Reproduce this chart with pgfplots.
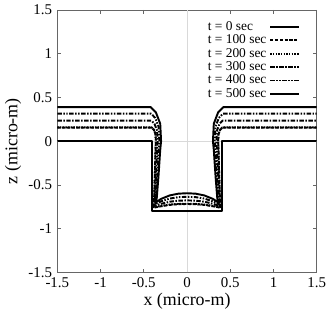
\documentclass[border=0pt]{standalone}
\usepackage{pgfplots}
\pgfplotsset{compat=1.18}
\usepackage{fontspec}
\setmainfont{Liberation Serif}
\begin{document}
\begin{tikzpicture}
\begin{axis}[
  width=174pt, height=176pt, scale only axis,
  xmin=-1.5, xmax=1.5, ymin=-1.5, ymax=1.5,
  xtick={-1.5,-1,-0.5,0,0.5,1,1.5},
  ytick={-1.5,-1,-0.5,0,0.5,1,1.5},
  tick align=inside, major tick length=2.5pt,
  tick style={black!60, line width=0.4pt},
  axis line style={black!60, line width=0.6pt},
  /pgf/number format/assume math mode=true,
  ticklabel style={font=\normalsize},
  xlabel={x (micro-m)}, ylabel={z (micro-m)},
  label style={font=\large},
  xlabel style={yshift=3pt},
  ylabel style={yshift=-2pt},
  extra x ticks={0}, extra y ticks={0},
  extra tick style={grid=major, major grid style={black!15, line width=0.5pt}, tick style={draw=none}},
  extra x tick labels={}, extra y tick labels={},
  legend style={draw=none, fill=none, at={(0.94,0.975)}, anchor=north east, font=\fontsize{9}{10}\selectfont,
    row sep=-2.5pt, inner sep=1pt},
  legend cell align=left,
  legend plot pos=right,
  legend image post style={line width=1.1pt},
  legend image code/.code={\draw[#1] (0pt,0pt) -- (19pt,0pt);},
  every axis plot/.append style={line width=1.3pt, black, line join=round, mark=none},
]
\addplot[black, solid] coordinates {(-1.5,0) (-0.4,0) (-0.4,-0.8) (0.4,-0.8) (0.4,0) (1.5,0)};
\addlegendentry{t = 0 sec}
\addplot[black, dash pattern=on 2.2pt off 1pt] coordinates {
(-1.5,0.155) (-0.408,0.155) (-0.384,0.131) (-0.364,0.079) (-0.36,0) (-0.364,-0.1) (-0.372,-0.4) (-0.38,-0.65) (-0.384,-0.76) (-0.3,-0.744) (-0.2,-0.728) (-0.1,-0.72) (0,-0.718)
(0.1,-0.72) (0.2,-0.728) (0.3,-0.744) (0.384,-0.76) (0.38,-0.65) (0.372,-0.4) (0.364,-0.1) (0.36,0) (0.364,0.079) (0.384,0.131) (0.408,0.155) (1.5,0.155)};
\addlegendentry{t = 100 sec}
\addplot[black, dash pattern=on 1pt off 0.8pt] coordinates {
(-1.5,0.158) (-0.408,0.158) (-0.384,0.133) (-0.364,0.08) (-0.36,0) (-0.364,-0.1) (-0.372,-0.4) (-0.38,-0.65) (-0.384,-0.755) (-0.3,-0.74) (-0.2,-0.725) (-0.1,-0.717) (0,-0.715)
(0.1,-0.717) (0.2,-0.725) (0.3,-0.74) (0.384,-0.755) (0.38,-0.65) (0.372,-0.4) (0.364,-0.1) (0.36,0) (0.364,0.08) (0.384,0.133) (0.408,0.158) (1.5,0.158)};
\addlegendentry{t = 200 sec}
\addplot[black, dash pattern=on 3pt off 1pt on 1pt off 1pt] coordinates {
(-1.5,0.235) (-0.412,0.235) (-0.376,0.199) (-0.346,0.121) (-0.34,0) (-0.346,-0.1) (-0.358,-0.4) (-0.37,-0.65) (-0.376,-0.74) (-0.3,-0.716) (-0.2,-0.692) (-0.1,-0.68) (0,-0.677)
(0.1,-0.68) (0.2,-0.692) (0.3,-0.716) (0.376,-0.74) (0.37,-0.65) (0.358,-0.4) (0.346,-0.1) (0.34,0) (0.346,0.121) (0.376,0.199) (0.412,0.235) (1.5,0.235)};
\addlegendentry{t = 300 sec}
\addplot[black, dash pattern=on 3pt off 1pt on 1pt off 1pt on 1pt off 1pt] coordinates {
(-1.5,0.315) (-0.416,0.315) (-0.368,0.267) (-0.328,0.163) (-0.32,0) (-0.328,-0.1) (-0.344,-0.4) (-0.36,-0.65) (-0.368,-0.72) (-0.3,-0.688) (-0.2,-0.656) (-0.1,-0.64) (0,-0.636)
(0.1,-0.64) (0.2,-0.656) (0.3,-0.688) (0.368,-0.72) (0.36,-0.65) (0.344,-0.4) (0.328,-0.1) (0.32,0) (0.328,0.163) (0.368,0.267) (0.416,0.315) (1.5,0.315)};
\addlegendentry{t = 400 sec}
\addplot[black, solid] coordinates {
(-1.5,0.39) (-0.42,0.39) (-0.36,0.33) (-0.31,0.2) (-0.30,0) (-0.31,-0.1) (-0.33,-0.4) (-0.35,-0.65) (-0.36,-0.70) (-0.3,-0.66) (-0.2,-0.62) (-0.1,-0.60) (0,-0.595)
(0.1,-0.60) (0.2,-0.62) (0.3,-0.66) (0.36,-0.70) (0.35,-0.65) (0.33,-0.4) (0.31,-0.1) (0.30,0) (0.31,0.2) (0.36,0.33) (0.42,0.39) (1.5,0.39)};
\addlegendentry{t = 500 sec}
\end{axis}
\end{tikzpicture}
\end{document}
